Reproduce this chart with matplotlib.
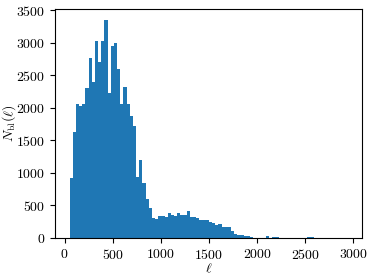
import numpy as np
import matplotlib
matplotlib.use("Agg")
import matplotlib.pyplot as plt

plt.rcParams['font.family'] = 'serif'
plt.rcParams['font.serif'] = ['cmr10']
plt.rcParams['mathtext.fontset'] = 'cm'
plt.rcParams['axes.formatter.use_mathtext'] = True
plt.rcParams['font.size'] = 10

# histogram range and bin count
ell_min = 52
ell_max = 2947
n_bins = 88

# counts per bin, left to right
counts = [
    920, 1620, 2050, 2030, 2060, 2300, 2770, 2390, 3025, 2705,
    3025, 3350, 2230, 2950, 3000, 2590, 2050, 2315, 2050, 1870,
    1725, 940, 1200, 840, 605, 455, 300, 285, 345, 335,
    315, 390, 355, 335, 380, 360, 360, 412, 318, 318,
    312, 283, 280, 270, 245, 235, 200, 212, 175, 165,
    172, 108, 68, 52, 38, 26, 26, 18, 4, 3,
    3, 6, 28, 4, 12, 12, 5, 3, 2, 1,
    2, 2, 3, 3, 4, 10, 10, 3, 2, 4,
    4, 1, 2, 1, 1, 1, 1, 2,
]

edges = np.linspace(ell_min, ell_max, n_bins + 1)
centres = 0.5 * (edges[:-1] + edges[1:])

fig = plt.figure(figsize=(3.74, 2.78), dpi=100)
ax = fig.add_axes([0.146, 0.144, 0.823, 0.824])
ax.hist(centres, bins=edges, weights=counts, color='#1f77b4')
ax.set_xlim(-104, 3093)
ax.set_xticks([0, 500, 1000, 1500, 2000, 2500, 3000])
ax.set_yticks([0, 500, 1000, 1500, 2000, 2500, 3000, 3500])
ax.set_xlabel(r'$\ell$')
ax.set_ylabel(r'$N_{\rm bl}(\ell)$')
ax.xaxis.set_label_coords(0.5, -0.105)
ax.yaxis.set_label_coords(-0.118, 0.5)

fig.savefig('out.png', dpi=100)
